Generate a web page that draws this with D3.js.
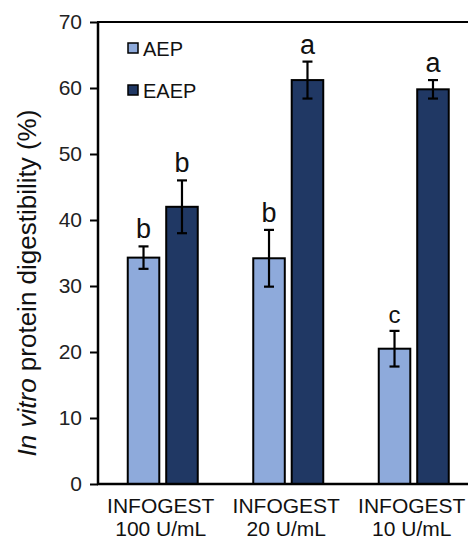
<!DOCTYPE html>
<html>
<head>
<meta charset="utf-8">
<script src="https://cdn.jsdelivr.net/npm/d3@7"></script>
<style>
  body { margin: 0; background: #fff; }
  svg { font-family: "Liberation Sans", Arial, sans-serif; }
</style>
</head>
<body>
<div id="chart"></div>
<script>
// data
var categories = [["INFOGEST", "100 U/mL"], ["INFOGEST", "20 U/mL"], ["INFOGEST", "10 U/mL"]];
var seriesNames = ["AEP", "EAEP"];
var aepValues = [34.3, 34.2, 20.5];
var aepErrors = [1.7, 4.3, 2.7];
var eaepValues = [42.0, 61.2, 59.8];
var eaepErrors = [4.0, 2.8, 1.4];
var aepLetters = ["b", "b", "c"];
var eaepLetters = ["b", "a", "a"];
var yTicks = [0, 10, 20, 30, 40, 50, 60, 70];

var colors = ["#8eaadb", "#203864"];

var width = 468, height = 541;
var margin = {left: 98, top: 22, bottom: 57};
var plotW = 376.5;
var plotH = height - margin.top - margin.bottom;

var svg = d3.select("#chart").append("svg")
    .attr("width", width)
    .attr("height", height);

var x0 = d3.scaleBand()
    .domain(d3.range(categories.length))
    .range([0, plotW]);
var x1 = d3.scaleBand()
    .domain(seriesNames)
    .range([x0.bandwidth() / 2 - 33, x0.bandwidth() / 2 + 37])
    .paddingInner(0.18);
var y = d3.scaleLinear()
    .domain([0, 70])
    .range([plotH, 0]);

var g = svg.append("g")
    .attr("transform", "translate(" + margin.left + "," + margin.top + ")");

// 组装数据
var rows = [];
for (var i = 0; i < categories.length; i++) {
    rows.push({cat: i, s: "AEP", v: aepValues[i], e: aepErrors[i], l: aepLetters[i], c: colors[0]});
    rows.push({cat: i, s: "EAEP", v: eaepValues[i], e: eaepErrors[i], l: eaepLetters[i], c: colors[1]});
}

// bars
g.selectAll("rect.bar").data(rows).enter().append("rect")
    .attr("class", "bar")
    .attr("x", function (d) { return x0(d.cat) + x1(d.s); })
    .attr("y", function (d) { return y(d.v); })
    .attr("width", x1.bandwidth())
    .attr("height", function (d) { return plotH - y(d.v); })
    .attr("fill", function (d) { return d.c; })
    .attr("stroke", "#000")
    .attr("stroke-width", 2);

// error bars
var eb = g.selectAll("g.err").data(rows).enter().append("g")
    .attr("class", "err")
    .attr("transform", function (d) { return "translate(" + (x0(d.cat) + x1(d.s) + x1.bandwidth() / 2) + ",0)"; });
eb.append("line")
    .attr("y1", function (d) { return y(d.v + d.e); })
    .attr("y2", function (d) { return y(d.v - d.e); })
    .attr("stroke", "#000").attr("stroke-width", 2.2);
eb.append("line")
    .attr("x1", -5).attr("x2", 5)
    .attr("y1", function (d) { return y(d.v + d.e); })
    .attr("y2", function (d) { return y(d.v + d.e); })
    .attr("stroke", "#000").attr("stroke-width", 2.2);
eb.append("line")
    .attr("x1", -5).attr("x2", 5)
    .attr("y1", function (d) { return y(d.v - d.e); })
    .attr("y2", function (d) { return y(d.v - d.e); })
    .attr("stroke", "#000").attr("stroke-width", 2.2);
eb.append("text")
    .attr("y", function (d) { return y(d.v + d.e) - 8; })
    .attr("text-anchor", "middle")
    .attr("font-size", function (d) { return d.l == "c" ? 24 : 27; })
    .attr("fill", "#111")
    .text(function (d) { return d.l; });

// y axis
var yAxis = g.append("g")
    .call(d3.axisLeft(y).tickValues(yTicks).tickSize(8).tickPadding(8));
yAxis.selectAll("path").attr("stroke-width", 2.5).attr("d", "M0," + (plotH) + "V0");
yAxis.selectAll(".tick line").attr("stroke-width", 2);
yAxis.selectAll("text").attr("font-size", 21).attr("fill", "#222")
    .attr("font-family", "Liberation Sans, Arial, sans-serif");

// x axis line and top frame
g.append("line").attr("x1", -1).attr("x2", plotW + 10)
    .attr("y1", plotH).attr("y2", plotH)
    .attr("stroke", "#000").attr("stroke-width", 2.5);
g.append("line").attr("x1", -1).attr("x2", plotW + 10)
    .attr("y1", 0).attr("y2", 0)
    .attr("stroke", "#000").attr("stroke-width", 2.2);

// x labels
var xl = g.selectAll("text.xl").data(categories).enter().append("text")
    .attr("class", "xl")
    .attr("text-anchor", "middle")
    .attr("font-size", 21)
    .attr("fill", "#111")
    .attr("x", function (d, i) { return x0(i) + x0.bandwidth() / 2; })
    .attr("y", plotH + 29);
xl.append("tspan").text(function (d) { return d[0]; });
xl.append("tspan")
    .attr("x", function (d, i) { return x0(i) + x0.bandwidth() / 2; })
    .attr("dy", 23)
    .text(function (d) { return d[1]; });

// y label
var yl = svg.append("text")
    .attr("transform", "translate(36," + 283 + ") rotate(-90)")
    .attr("text-anchor", "middle")
    .attr("font-size", 26)
    .attr("fill", "#111");
yl.append("tspan").attr("font-style", "italic").text("In vitro");
yl.append("tspan").text(" protein digestibility (%)");

// legend
var leg = g.selectAll("g.leg").data(seriesNames).enter().append("g")
    .attr("class", "leg")
    .attr("transform", function (d, i) { return "translate(30," + (26 + i * 42) + ")"; });
leg.append("rect")
    .attr("x", 0).attr("y", -5)
    .attr("width", 10).attr("height", 10)
    .attr("fill", function (d, i) { return colors[i]; })
    .attr("stroke", "#000").attr("stroke-width", 1.5);
leg.append("text")
    .attr("x", 15).attr("y", 7.5)
    .attr("font-size", 20)
    .attr("fill", "#111")
    .text(function (d) { return d; });
</script>
</body>
</html>
